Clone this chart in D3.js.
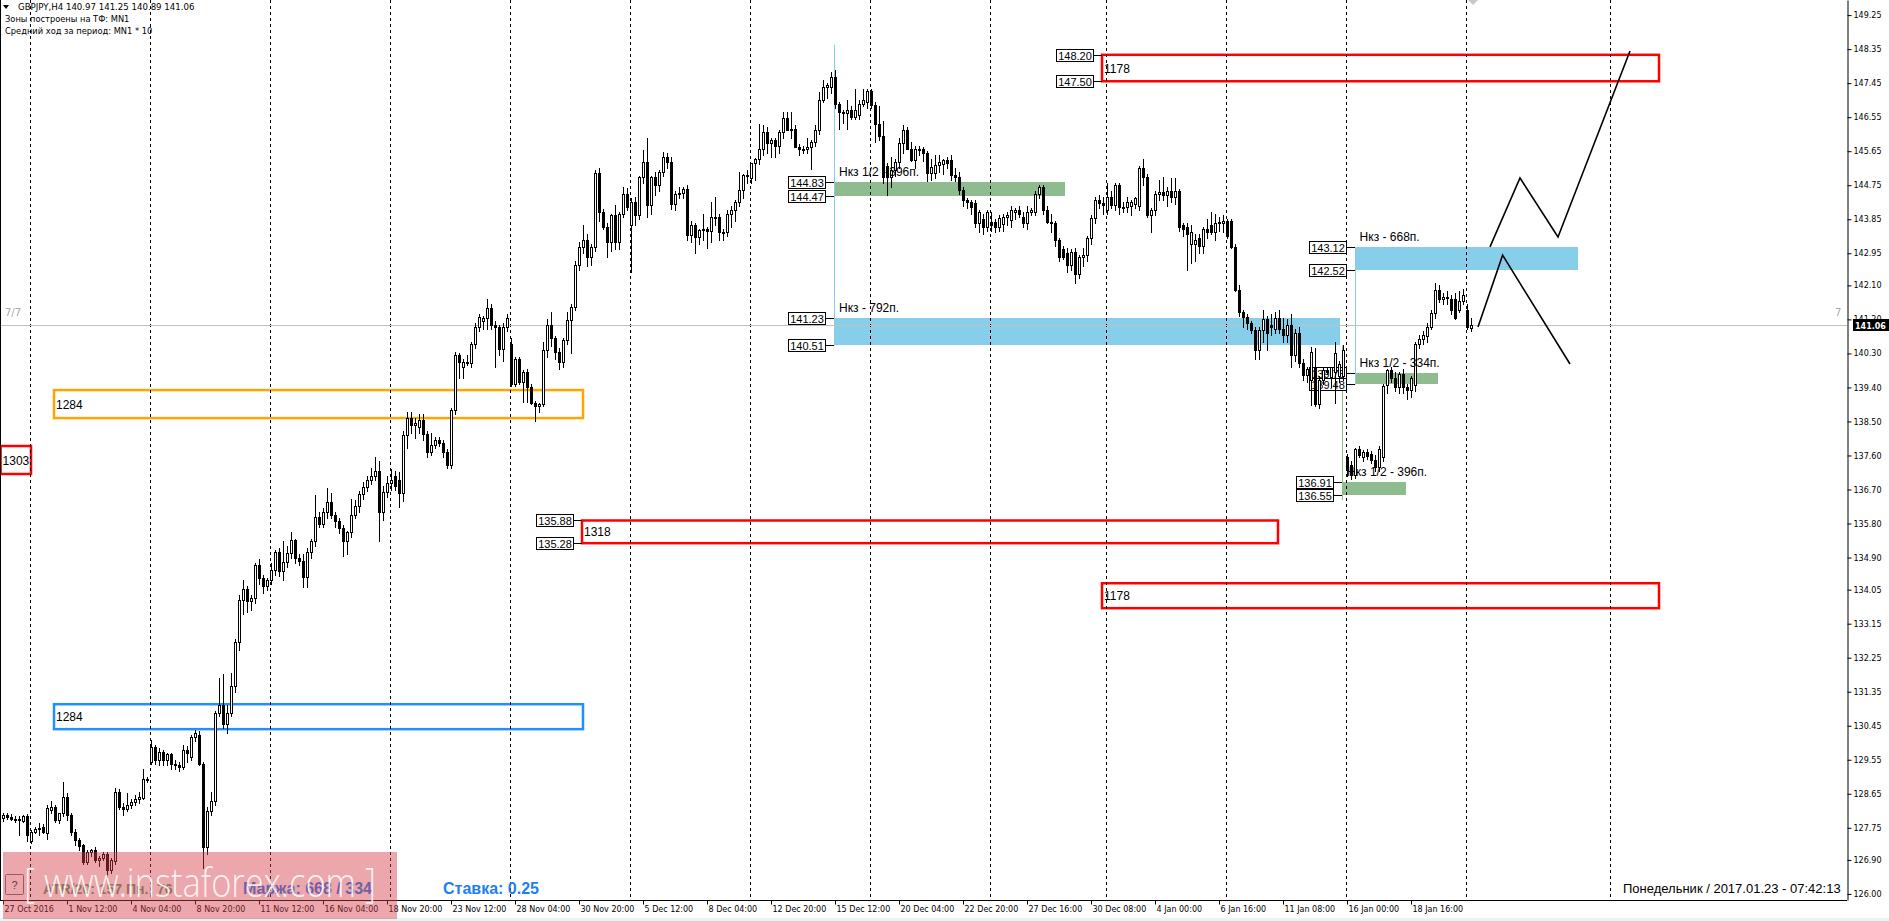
<!DOCTYPE html>
<html><head><meta charset="utf-8">
<script src="https://cdn.jsdelivr.net/npm/d3@7"></script>
<style>body{margin:0;background:#fff;overflow:hidden}svg{display:block}</style>
</head><body>
<svg id="c" width="1889" height="921"></svg>
<script>
// ---------------- DATA ----------------
const opens=[
128.00,128.08,128.04,127.98,127.95,127.93,128.06,127.40,127.65,127.73,
127.78,127.62,128.22,128.30,127.95,128.13,128.57,128.10,127.65,127.42,
127.30,126.85,127.10,127.15,126.90,126.95,127.05,126.64,126.88,128.70,
128.31,128.25,128.35,128.42,128.50,128.53,129.05,129.50,129.89,129.55,
129.75,129.54,129.70,129.45,129.40,129.36,129.80,129.62,130.15,130.20,
129.45,127.25,128.20,128.45,130.78,131.00,130.50,130.80,131.50,132.66,
133.77,134.08,133.75,133.82,134.70,134.35,134.15,134.30,134.57,135.05,
134.55,134.78,135.03,135.36,134.88,134.80,134.39,135.05,135.35,135.98,
135.80,136.11,136.37,136.02,135.87,135.68,135.35,135.58,136.02,136.26,
136.59,136.77,136.95,137.07,137.20,136.11,136.64,136.88,137.05,136.95,
136.62,138.14,138.58,138.40,138.35,138.55,138.18,137.70,137.87,138.02,
137.92,137.70,137.35,138.80,140.26,139.95,140.08,140.05,140.56,141.01,
141.15,141.25,141.49,141.05,141.00,140.43,141.00,140.55,139.50,140.15,
139.55,139.80,139.42,138.98,138.90,138.96,140.39,141.05,140.70,140.35,
140.06,140.66,141.18,141.54,142.64,143.12,143.30,142.86,143.12,145.06,
144.05,143.65,143.25,143.96,143.25,144.00,144.53,143.70,144.31,143.96,
144.97,145.37,144.22,144.97,144.75,145.10,145.50,145.37,144.26,144.53,
144.55,144.66,143.43,143.70,143.38,143.56,143.60,143.55,143.90,143.92,
143.52,143.50,144.00,144.10,144.31,144.62,145.02,144.95,145.33,145.45,
145.72,146.16,145.86,145.95,145.80,146.16,146.52,146.21,146.25,145.77,
145.72,145.70,145.76,145.90,146.21,147.00,147.35,147.35,147.62,146.90,
146.70,146.66,146.75,146.55,146.60,146.90,146.95,147.25,146.86,146.38,
146.05,145.25,144.97,145.15,145.37,145.86,146.21,145.72,145.41,145.72,
145.70,145.60,145.06,145.06,145.28,145.30,145.41,145.41,145.02,144.97,
144.62,144.36,144.30,144.27,143.74,143.85,143.65,143.78,143.78,143.65,
143.73,143.92,143.83,144.05,144.09,143.90,143.75,144.05,144.05,144.53,
144.70,144.09,143.78,143.75,143.30,143.05,142.95,142.63,142.98,142.40,
142.85,142.90,143.35,143.87,144.36,144.28,144.10,144.45,144.22,144.75,
144.18,144.18,144.20,144.25,144.20,145.20,144.98,143.95,144.10,144.53,
144.58,144.50,144.60,144.45,144.60,143.70,143.65,143.20,143.20,143.35,
143.15,143.60,143.70,143.50,143.75,143.75,143.80,143.80,143.12,141.97,
141.40,141.27,141.10,140.92,140.40,140.92,141.20,141.05,140.95,141.25,
140.95,140.78,141.05,140.25,140.85,140.05,139.73,139.59,139.95,138.95,
139.59,139.86,139.68,139.80,139.70,139.70,137.55,137.35,137.08,137.78,
137.55,137.70,137.65,137.48,137.30,137.55,139.46,139.86,139.65,139.40,
139.75,139.40,139.33,139.46,140.56,140.69,140.75,141.00,141.36,141.98,
141.75,141.78,141.75,141.75,141.45,141.70,141.45,140.97];
const highs=[
128.15,128.14,128.12,128.05,128.05,128.10,128.12,127.70,127.78,127.87,
127.85,128.35,128.45,128.35,128.15,128.97,128.68,128.15,127.72,127.48,
127.32,127.15,127.20,127.25,127.00,127.10,127.10,126.95,128.80,128.78,
128.40,128.66,128.50,128.62,128.70,129.30,129.10,130.07,129.95,129.85,
129.80,129.72,129.74,129.55,129.48,129.95,129.92,130.20,130.35,130.30,
129.50,128.30,128.70,130.85,131.70,131.83,131.00,131.85,132.75,133.90,
134.30,134.15,133.90,134.75,134.87,134.45,134.35,134.75,135.10,135.15,
135.35,135.20,135.58,135.40,135.00,135.00,135.15,135.40,136.55,136.10,
136.20,136.73,136.60,136.10,135.95,135.75,135.60,136.44,136.42,136.65,
136.90,137.05,137.28,137.55,137.45,136.80,137.05,137.25,137.20,137.15,
138.25,138.75,138.75,138.60,138.70,138.70,138.25,138.20,138.10,138.10,
138.00,137.78,138.85,140.35,140.30,140.15,140.25,140.60,141.10,141.35,
141.30,141.75,141.62,141.15,141.05,141.10,141.35,140.70,140.20,140.20,
139.85,139.90,139.50,139.05,139.00,140.60,141.20,141.40,140.75,140.45,
140.70,141.40,141.60,142.75,143.26,143.70,143.45,143.20,145.15,145.20,
144.12,143.75,144.00,144.22,144.05,144.70,144.67,144.40,144.45,145.00,
145.68,146.01,145.00,145.10,145.15,145.63,145.60,145.50,144.60,144.70,
144.70,144.75,143.80,143.75,143.58,144.00,143.65,144.30,144.45,144.00,
143.60,144.10,144.20,144.35,145.10,145.05,145.15,145.35,145.47,146.37,
146.35,146.30,146.00,146.00,146.20,146.70,146.70,146.70,146.35,145.85,
145.80,146.00,145.95,146.35,147.22,147.53,147.45,147.75,147.80,146.95,
146.75,147.00,146.85,147.30,147.00,147.30,147.30,147.30,146.95,146.85,
146.45,145.35,145.50,145.45,146.00,146.33,146.30,145.90,145.80,145.80,
145.75,145.65,145.45,145.55,145.55,145.45,145.50,145.55,145.20,145.10,
144.70,144.40,144.35,144.35,144.10,144.00,144.10,144.05,143.85,143.95,
144.00,144.05,144.20,144.15,144.20,144.05,144.20,144.15,144.60,144.75,
144.75,144.20,144.00,143.80,143.35,143.15,143.10,143.05,143.10,142.90,
143.10,143.40,143.95,144.45,144.50,144.45,144.80,144.60,144.80,144.80,
144.30,144.45,144.35,144.45,145.25,145.45,145.05,144.15,144.60,144.90,
144.97,144.70,144.95,144.95,144.65,143.75,143.75,143.70,143.45,143.45,
143.65,143.85,144.05,144.00,143.90,143.95,143.85,143.85,143.20,142.10,
141.45,141.35,141.15,141.00,141.00,141.45,141.30,141.35,141.40,141.45,
141.25,141.20,141.35,140.95,141.00,140.15,139.95,140.47,140.45,139.70,
139.95,139.95,139.95,140.60,140.10,140.52,137.65,137.45,137.80,137.85,
137.75,137.78,137.72,137.60,137.85,139.50,139.90,139.95,139.80,139.80,
139.90,139.50,139.70,140.60,140.80,140.90,141.10,141.45,142.15,142.10,
141.90,141.95,141.85,141.90,141.95,142.00,141.60,141.25];
const lows=[
127.92,127.98,127.95,127.90,127.56,127.90,127.39,127.35,127.62,127.55,
127.60,127.45,128.15,127.90,127.88,128.05,127.95,127.55,127.30,127.15,
126.80,126.80,127.00,126.85,126.75,126.90,126.45,126.55,126.80,128.25,
128.10,128.20,128.28,128.35,128.40,128.50,128.95,129.45,129.45,129.40,
129.40,129.40,129.30,129.30,129.25,129.30,129.50,129.55,130.05,129.40,
126.68,127.05,128.10,128.35,130.70,130.40,130.25,130.70,131.35,132.45,
133.40,133.45,133.50,133.70,134.20,133.95,134.05,134.20,134.45,134.40,
134.30,134.65,134.90,134.75,134.70,134.13,134.13,134.90,135.20,135.70,
135.70,135.95,135.95,135.70,135.55,134.95,135.00,135.45,135.95,136.10,
136.45,136.65,136.85,136.95,135.35,135.90,136.50,136.70,136.70,136.25,
136.40,137.80,138.20,138.05,138.20,138.00,137.55,137.60,137.80,137.85,
137.55,137.28,137.28,138.70,139.65,139.65,140.00,139.95,140.45,140.90,
140.95,140.95,140.95,139.95,140.25,140.10,140.90,139.45,139.45,139.50,
139.02,139.02,138.95,138.50,138.75,138.90,140.20,140.50,140.15,139.90,
139.95,140.55,140.30,141.45,142.50,142.95,142.60,142.65,143.00,143.80,
143.60,142.85,143.00,143.05,143.05,143.90,144.10,142.45,143.70,143.85,
144.80,143.90,144.00,144.50,144.60,145.00,145.20,144.13,144.10,144.40,
144.40,143.30,143.25,142.95,143.20,143.30,143.10,143.25,143.70,143.30,
143.30,143.40,143.65,143.80,144.20,144.40,144.80,144.80,144.88,145.30,
145.55,145.60,145.50,145.50,145.60,146.00,146.20,146.00,145.75,145.55,
145.60,145.60,145.19,145.80,146.10,146.95,147.05,147.20,146.80,146.25,
146.40,146.25,146.50,146.50,146.50,146.85,146.80,146.80,145.90,145.95,
144.80,144.50,144.70,145.00,145.20,145.60,145.70,145.40,145.20,145.55,
145.40,144.85,144.90,144.95,145.10,145.05,145.20,144.90,144.85,144.53,
144.20,144.15,144.00,143.65,143.50,143.45,143.55,143.55,143.50,143.55,
143.55,143.70,143.65,143.85,143.90,143.65,143.60,143.95,143.95,144.40,
144.00,143.75,143.50,143.15,142.75,142.80,142.45,142.50,142.15,142.30,
142.60,142.75,143.20,143.75,144.15,144.00,144.00,144.15,144.10,144.00,
144.05,144.05,143.95,144.15,144.10,144.75,143.90,143.50,143.95,144.35,
144.35,144.20,144.30,144.25,143.55,143.40,142.50,142.70,142.75,142.95,
142.95,143.35,143.45,143.30,143.55,143.50,143.35,143.10,141.95,141.30,
141.00,140.95,140.85,140.15,140.15,140.60,140.38,140.80,140.85,140.85,
140.60,140.60,139.95,140.10,139.95,139.60,139.55,138.93,138.90,138.85,
139.50,139.75,139.40,139.00,139.55,139.60,137.05,136.98,137.00,137.55,
137.45,137.50,137.40,137.20,137.20,137.45,139.25,139.55,139.30,139.25,
139.25,139.10,139.15,139.30,140.45,140.55,140.60,140.95,141.25,141.65,
141.60,141.60,141.35,141.20,141.40,141.60,140.95,140.89];
const closes=[
128.08,128.04,127.98,127.95,127.98,128.06,127.56,127.65,127.73,127.75,
127.64,128.27,128.30,127.95,128.13,128.57,128.10,127.65,127.42,127.28,
126.85,127.10,127.15,126.90,126.95,127.05,126.64,126.90,128.70,128.31,
128.25,128.35,128.42,128.50,128.56,129.05,129.02,129.89,129.55,129.75,
129.54,129.70,129.45,129.40,129.36,129.80,129.72,130.15,130.25,129.45,
127.25,128.20,128.45,130.78,131.00,130.50,130.80,131.50,132.66,133.77,
134.08,133.75,133.82,134.70,134.35,134.15,134.30,134.57,135.05,134.55,
134.78,135.03,135.36,134.88,134.80,134.39,135.05,135.35,135.98,135.80,
136.11,136.37,136.02,135.87,135.68,135.35,135.58,136.02,136.26,136.59,
136.77,136.95,137.07,137.20,136.11,136.64,136.88,136.95,136.78,136.62,
138.14,138.58,138.40,138.45,138.55,138.18,137.70,137.87,138.02,137.92,
137.70,137.35,138.80,140.26,140.08,140.08,140.05,140.56,141.01,141.27,
141.25,141.49,141.05,141.00,140.43,141.00,141.23,139.50,140.15,139.55,
139.80,139.42,138.98,138.90,138.96,140.39,141.05,140.70,140.35,140.06,
140.66,141.18,141.54,142.64,143.12,143.30,142.86,143.12,145.06,144.05,
143.65,143.25,143.96,143.25,144.00,144.53,144.18,144.31,143.96,144.97,
145.37,144.22,144.97,144.75,145.10,145.50,145.37,144.26,144.53,144.55,
144.66,143.43,143.70,143.38,143.56,143.60,143.55,143.90,143.92,143.52,
143.50,144.00,144.10,144.31,144.62,145.02,145.00,145.33,145.45,145.72,
146.16,145.86,145.95,145.80,146.16,146.52,146.21,146.25,145.77,145.72,
145.70,145.76,145.90,146.21,147.00,147.35,147.40,147.62,146.90,146.70,
146.66,146.75,146.55,146.75,146.90,147.00,147.25,146.86,146.38,146.05,
144.97,144.97,145.15,145.37,145.86,146.21,145.72,145.41,145.72,145.70,
145.60,145.06,145.24,145.28,145.37,145.41,145.35,145.02,144.97,144.62,
144.36,144.30,144.18,143.74,144.05,143.65,144.05,143.69,143.65,143.87,
143.92,143.96,144.09,144.09,144.00,143.75,144.05,144.10,144.53,144.70,
144.09,143.78,143.75,143.30,142.85,142.85,142.63,142.98,142.40,142.85,
142.90,143.35,143.87,144.36,144.28,144.22,144.45,144.22,144.75,144.18,
144.18,144.30,144.30,144.40,145.20,144.98,143.95,144.10,144.53,144.58,
144.50,144.60,144.45,144.60,143.65,143.60,143.45,143.50,143.30,143.15,
143.60,143.50,143.50,143.75,143.78,143.80,143.40,143.12,141.97,141.40,
141.27,141.10,140.92,140.40,140.92,141.20,140.83,141.00,141.25,140.95,
140.78,141.05,140.25,140.85,140.05,139.73,139.90,140.34,138.95,139.59,
139.86,139.82,139.95,140.30,140.03,140.40,137.22,137.08,137.78,137.62,
137.70,137.58,137.48,137.30,137.78,139.45,139.86,139.65,139.40,139.75,
139.40,139.33,139.65,140.56,140.69,140.80,141.00,141.36,141.98,141.75,
141.78,141.80,141.45,141.23,141.70,141.85,141.00,141.06];

// time axis labels, one every 16 bars starting at bar 0
const timeLabels=["27 Oct 2016","1 Nov 12:00","4 Nov 04:00","8 Nov 20:00","11 Nov 12:00","16 Nov 04:00",
"18 Nov 20:00","23 Nov 12:00","28 Nov 04:00","30 Nov 20:00","5 Dec 12:00","8 Dec 04:00","12 Dec 20:00",
"15 Dec 12:00","20 Dec 04:00","22 Dec 20:00","27 Dec 16:00","30 Dec 08:00","4 Jan 00:00","6 Jan 16:00",
"11 Jan 08:00","16 Jan 00:00","18 Jan 16:00"];
const priceTicks=[149.25,148.35,147.45,146.55,145.65,144.75,143.85,142.95,142.10,141.20,140.30,139.40,138.50,
137.60,136.70,135.80,134.90,134.05,133.15,132.25,131.35,130.45,129.55,128.65,127.75,126.90,126.00];
// weekly separators (bar positions)
const separators=[6.75,36.75,66.75,96.75,126.75,156.75,186.75,216.75,246.75,275.75,305.75,335.75,365.75,401.75];

// filled zones
const zoneNames=["Нкз 1/2 - 396п.","Нкз - 792п.","Нкз - 668п.","Нкз 1/2 - 334п.","Нкз 1/2 - 396п."];
const zoneHigh=[144.83,141.23,143.12,139.78,136.91];
const zoneLow=[144.47,140.51,142.52,139.48,136.55];
const zoneStart=[207.75,207.75,337.9,337.9,334.75];
const zoneEnd=[265.5,334.25,393.75,358.65,350.75];
const zoneKind=["green","blue","blue","green","green"];

// outlined boxes
const boxNames=["1303","1284","1284","1318","1178","1178"];
const boxHigh=[137.85,139.33,131.02,135.88,148.20,134.22];
const boxLow=[137.11,138.59,130.36,135.28,147.50,133.56];
const boxStart=[-0.6,12.75,12.75,144.75,274.75,274.75];
const boxEnd=[7,145,145,318.75,414,414];
const boxKind=["red","orange","blue","red","red","red"];

// price tags: value and the bar position of the line they point to
const tagValues=[144.83,144.47,141.23,140.51,143.12,142.52,139.78,139.48,136.91,136.55,135.88,135.28,148.20,147.50];
const tagAnchor=[207.75,207.75,207.75,207.75,337.9,337.9,337.9,337.9,334.75,334.75,144.75,144.75,274.75,274.75];

// forecast zig-zags
const fcABar=[368.75,374.9,391.75], fcAPrice=[141.00,142.90,140.02];
const fcBBar=[371.75,379.25,388.75,406.75], fcBPrice=[143.12,144.94,143.38,148.30];

const current={o:140.97,h:141.25,l:140.89,c:141.06};

// ---------------- DRAW ----------------
const W=1889,H=921,PR=1847,PB=900;
const svg=d3.select("#c");
const x=d3.scaleLinear().domain([0,461]).range([3,PR]);
const y=d3.scaleLinear().domain([125.84,149.65]).range([PB,0]);
const col={red:"#ff0000",orange:"#ffa500",blue:"#1e90ff",sky:"#87ceeb",green:"#8fbc8f"};
const AR="'Liberation Sans',Arial,sans-serif", DV="'DejaVu Sans',Verdana,sans-serif";

svg.append("rect").attr("width",W).attr("height",H).attr("fill","#fff");
svg.append("rect").attr("x",0).attr("y",918).attr("width",W).attr("height",3).attr("fill","#f0f0f0");
svg.append("defs").append("clipPath").attr("id","pc").append("rect").attr("x",0).attr("y",0).attr("width",PR).attr("height",PB);
const P=svg.append("g").attr("clip-path","url(#pc)");

// zones
const zones=d3.range(zoneNames.length).map(i=>({n:zoneNames[i],h:zoneHigh[i],l:zoneLow[i],s:zoneStart[i],e:zoneEnd[i],k:zoneKind[i]}));
P.selectAll("rect.zone").data(zones).join("rect").attr("class","zone")
 .attr("x",d=>Math.round(x(d.s))).attr("width",d=>Math.round(x(d.e))-Math.round(x(d.s)))
 .attr("y",d=>Math.round(y(d.h))).attr("height",d=>Math.round(y(d.l))-Math.round(y(d.h)))
 .attr("fill",d=>d.k==="green"?col.green:col.sky);

// vertical zone lines
P.append("line").attr("x1",Math.round(x(207.75))+0.5).attr("x2",Math.round(x(207.75))+0.5)
 .attr("y1",y(148.47)).attr("y2",y(140.51)).attr("stroke",col.sky).attr("stroke-width",1);
P.append("line").attr("x1",Math.round(x(337.9))+0.5).attr("x2",Math.round(x(337.9))+0.5)
 .attr("y1",y(143.12)).attr("y2",y(139.48)).attr("stroke",col.sky).attr("stroke-width",1);
P.append("line").attr("x1",Math.round(x(334.75))+0.5).attr("x2",Math.round(x(334.75))+0.5)
 .attr("y1",y(140.51)).attr("y2",y(136.42)).attr("stroke",col.green).attr("stroke-width",1);

// outlined boxes
const boxes=d3.range(boxNames.length).map(i=>({n:boxNames[i],h:boxHigh[i],l:boxLow[i],s:boxStart[i],e:boxEnd[i],k:boxKind[i]}));
P.selectAll("rect.box").data(boxes).join("rect").attr("class","box")
 .attr("x",d=>x(d.s)).attr("width",d=>x(d.e)-x(d.s))
 .attr("y",d=>y(d.h)).attr("height",d=>y(d.l)-y(d.h))
 .attr("fill","none").attr("stroke",d=>col[d.k]).attr("stroke-width",2.5);

// weekly separators
P.selectAll("line.sep").data(separators).join("line").attr("class","sep")
 .attr("x1",d=>Math.round(x(d))+0.5).attr("x2",d=>Math.round(x(d))+0.5)
 .attr("y1",0).attr("y2",PB).attr("stroke","#000").attr("stroke-width",1).attr("stroke-dasharray","3,3");

// current price line
P.append("line").attr("x1",0).attr("x2",PR).attr("y1",Math.round(y(current.c))+0.5).attr("y2",Math.round(y(current.c))+0.5)
 .attr("stroke","#c0c0c0").attr("stroke-width",1);

// price tags (drawn under candles, as in the terminal)
const tags=tagValues.map((v,i)=>({v,a:tagAnchor[i]}));
const TG=P.selectAll("g.tag").data(tags).join("g").attr("class","tag");
TG.append("line").attr("x1",d=>Math.round(x(d.a))-8).attr("x2",d=>Math.round(x(d.a)))
 .attr("y1",d=>Math.round(y(d.v))+0.5).attr("y2",d=>Math.round(y(d.v))+0.5).attr("stroke","#000");
TG.append("rect").attr("x",d=>Math.round(x(d.a))-45.5).attr("y",d=>Math.round(y(d.v))-5.5)
 .attr("width",37).attr("height",12).attr("fill","#fff").attr("stroke","#000");
TG.append("text").attr("x",d=>Math.round(x(d.a))-27).attr("y",d=>Math.round(y(d.v))+4.5)
 .attr("text-anchor","middle").attr("font-family",AR).attr("font-size",11).attr("fill","#000").text(d=>d.v.toFixed(2));

// candles
const bars=d3.range(closes.length).map(i=>({i,o:opens[i],h:highs[i],l:lows[i],c:closes[i]}));
const CG=P.append("g");
CG.selectAll("line.wick").data(bars).join("line").attr("class","wick")
 .attr("x1",d=>Math.round(x(d.i))+0.5).attr("x2",d=>Math.round(x(d.i))+0.5)
 .attr("y1",d=>Math.round(y(Math.max(d.h,d.o,d.c)))).attr("y2",d=>Math.round(y(Math.min(d.l,d.o,d.c)))+1)
 .attr("stroke","#000").attr("stroke-width",1);
CG.selectAll("rect.body").data(bars).join("rect").attr("class","body")
 .attr("x",d=>Math.round(x(d.i))-0.5).attr("width",2)
 .attr("y",d=>Math.round(y(Math.max(d.o,d.c)))+0.5)
 .attr("height",d=>Math.max(1,Math.round(y(Math.min(d.o,d.c)))-Math.round(y(Math.max(d.o,d.c)))))
 .attr("fill",d=>d.c>=d.o?"#fff":"#000").attr("stroke","#000").attr("stroke-width",1);

// box labels
P.selectAll("text.boxl").data(boxes).join("text").attr("class","boxl")
 .attr("x",d=>x(d.s)+2).attr("y",d=>(y(d.h)+y(d.l))/2+4.5)
 .attr("font-family",AR).attr("font-size",12).attr("fill","#000").text(d=>d.n);

// zone labels
P.selectAll("text.zonel").data(zones).join("text").attr("class","zonel")
 .attr("x",d=>x(d.s)+5).attr("y",d=>y(d.h)-6)
 .attr("font-family",AR).attr("font-size",12).attr("fill","#000").text(d=>d.n);

// forecast lines
const ln=d3.line().x(d=>x(d[0])).y(d=>y(d[1]));
P.append("path").attr("d",ln(fcABar.map((b,i)=>[b,fcAPrice[i]]))).attr("fill","none").attr("stroke","#000").attr("stroke-width",1.6);
P.append("path").attr("d",ln(fcBBar.map((b,i)=>[b,fcBPrice[i]]))).attr("fill","none").attr("stroke","#000").attr("stroke-width",1.6);

// small gray marker at top
P.append("path").attr("d",`M${x(367.5)-5},0 L${x(367.5)},5 L${x(367.5)+5},0 Z`).attr("fill","#c8c8c8");

// gray line labels
svg.append("text").attr("x",5).attr("y",316).attr("font-family",DV).attr("font-size",10).attr("fill","#a8a8a8").text("7/7");
svg.append("text").attr("x",1835).attr("y",316).attr("font-family",DV).attr("font-size",10).attr("fill","#a8a8a8").text("7");

// header
svg.append("path").attr("d","M3,5 L9,5 L6,9 Z").attr("fill","#000");
svg.append("text").attr("x",18).attr("y",10).attr("font-family",DV).attr("font-size",8.6).attr("fill","#000")
 .text(`GBPJPY,H4  ${current.o.toFixed(2)} ${current.h.toFixed(2)} ${current.l.toFixed(2)} ${current.c.toFixed(2)}`);
svg.append("text").attr("x",5).attr("y",22).attr("font-family",DV).attr("font-size",8.3).attr("fill","#000").text("Зоны построены на ТФ: MN1");
svg.append("text").attr("x",5).attr("y",34).attr("font-family",DV).attr("font-size",8.3).attr("fill","#000").text("Средний ход за период: MN1 * 10");

// frame lines
svg.append("line").attr("x1",0.5).attr("x2",0.5).attr("y1",0).attr("y2",PB).attr("stroke","#000");
svg.append("line").attr("x1",0).attr("x2",PR).attr("y1",PB+0.5).attr("y2",PB+0.5).attr("stroke","#000");

// right axis
const ra=svg.append("g").attr("transform",`translate(${PR+0.5},0)`)
 .call(d3.axisRight(y).tickValues(priceTicks).tickSize(4).tickSizeOuter(0).tickFormat(d3.format(".2f")));
ra.select(".domain").attr("stroke","#000");
ra.selectAll("text").attr("font-family",DV).attr("font-size",8).attr("fill","#000").attr("x",6);

// current price tag
svg.append("rect").attr("x",PR+6).attr("y",Math.round(y(current.c))-6).attr("width",36).attr("height",12).attr("fill","#000");
svg.append("text").attr("x",PR+8).attr("y",Math.round(y(current.c))+3.5).attr("font-family",DV).attr("font-size",8)
 .attr("font-weight","bold").attr("fill","#fff").text(current.c.toFixed(2));

// bottom axis
const tIdx=timeLabels.map((d,i)=>i*16);
const ba=svg.append("g").attr("transform",`translate(0,${PB+0.5})`)
 .call(d3.axisBottom(x).tickValues(tIdx).tickSize(4).tickSizeOuter(0).tickFormat((d,i)=>timeLabels[i]));
ba.select(".domain").remove();
ba.selectAll(".tick line").attr("stroke","#000");
ba.selectAll("text").attr("font-family",DV).attr("font-size",8).attr("fill","#000")
 .attr("text-anchor","start").attr("x",1).attr("y",11).attr("dy","0");

// date text
svg.append("text").attr("x",1623).attr("y",893).attr("font-family",AR).attr("font-size",13).attr("fill","#000")
 .text("Понедельник / 2017.01.23 - 07:42:13");

// info texts + watermark
svg.append("text").attr("x",43).attr("y",894).attr("font-family",AR).attr("font-size",14).attr("font-weight","bold")
 .attr("fill","#55a070").text("ATR/20: 157  Пн.: 76");
svg.append("text").attr("x",243).attr("y",894).attr("font-family",AR).attr("font-size",16).attr("font-weight","bold")
 .attr("fill","#1e7ff0").text("Маржа: 668 / 334");
svg.append("text").attr("x",443).attr("y",894).attr("font-family",AR).attr("font-size",16).attr("font-weight","bold")
 .attr("fill","#1e7ff0").text("Ставка: 0.25");
svg.append("rect").attr("x",3).attr("y",852).attr("width",394).attr("height",67).attr("fill","rgb(210,60,70)").attr("opacity",0.45);
svg.append("rect").attr("x",5.5).attr("y",874.5).attr("width",18).attr("height",20).attr("fill","none").attr("stroke","#9a5a5e").attr("rx",1);
svg.append("text").attr("x",14.5).attr("y",889).attr("text-anchor","middle").attr("font-family",AR).attr("font-size",11).attr("fill","#6a3a3e").text("?");
svg.append("text").attr("x",24).attr("y",897).attr("font-family","'Open Sans','Noto Sans',sans-serif").attr("font-weight",300)
 .attr("font-size",40).attr("fill","#fff").attr("fill-opacity",0.85).attr("textLength",352).attr("lengthAdjust","spacingAndGlyphs")
 .text("[ www.instaforex.com ]");
</script>
</body></html>
